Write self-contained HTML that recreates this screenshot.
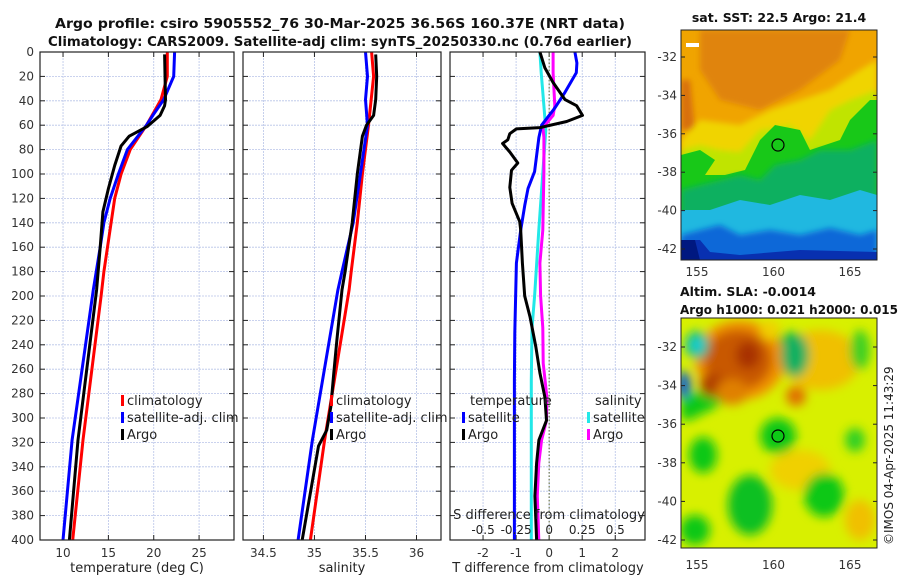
<!DOCTYPE html>
<html><head><meta charset="utf-8"><style>
html,body{margin:0;padding:0;background:#fff;}
svg{display:block;font-family:"DejaVu Sans","Liberation Sans",sans-serif;}
</style></head><body>
<svg id="c" width="900" height="580" viewBox="0 0 900 580" xmlns="http://www.w3.org/2000/svg">
<defs>
<filter id="bl" x="-20%" y="-20%" width="140%" height="140%"><feGaussianBlur stdDeviation="3"/></filter>
<filter id="bl2" x="-20%" y="-20%" width="140%" height="140%"><feGaussianBlur stdDeviation="5"/></filter>
<clipPath id="m1"><rect x="681" y="30" width="196" height="230"/></clipPath>
<clipPath id="m2"><rect x="681" y="318" width="196" height="230"/></clipPath>
</defs>
<g id="titles" font-weight="bold" font-size="13" fill="#111" text-anchor="middle">
<text x="340" y="28" textLength="570" lengthAdjust="spacingAndGlyphs">Argo profile: csiro 5905552_76 30-Mar-2025 36.56S 160.37E (NRT data)</text>
<text x="340" y="46" textLength="584" lengthAdjust="spacingAndGlyphs">Climatology: CARS2009. Satellite-adj clim: synTS_20250330.nc (0.76d earlier)</text>
</g>
<g id="plots"></g>

<!-- SST map -->
<g>
<g clip-path="url(#m1)">
<rect x="681" y="30" width="196" height="230" fill="#f0a400"/>
<g filter="url(#bl)">
<path d="M700 30 L850 30 L840 60 L800 90 L760 110 L720 100 L700 70Z" fill="#e08408"/>
<path d="M681 80 L690 80 L695 130 L681 130Z" fill="#d87010"/>
<path d="M681 140 L700 120 L740 125 L770 110 L800 100 L830 90 L860 70 L877 60 L877 260 L681 260Z" fill="#f0d400"/>
<path d="M681 150 L700 145 L720 150 L740 152 L760 130 L790 125 L810 140 L830 110 L850 100 L877 90 L877 260 L681 260Z" fill="#c0e400"/>
</g>
<path d="M681 155 L700 150 L715 160 L705 175 L725 175 L745 170 L760 140 L775 125 L800 130 L810 150 L840 140 L850 120 L860 110 L870 100 L877 100 L877 260 L681 260Z" fill="#18c818"/>
<path d="M681 190 L700 185 L720 180 L740 175 L760 180 L775 165 L800 160 L820 150 L850 150 L877 140 L877 260 L681 260Z" fill="#10b060" filter="url(#bl)"/>
<path d="M681 210 L710 210 L740 200 L770 205 L800 195 L830 200 L860 190 L877 195 L877 260 L681 260Z" fill="#20b8e0"/>
<path d="M681 235 L700 230 L720 225 L740 235 L770 230 L800 235 L830 228 L860 235 L877 230 L877 260 L681 260Z" fill="#1068d8" filter="url(#bl)"/>
<path d="M681 240 L700 240 L710 252 L740 255 L800 250 L877 252 L877 260 L681 260Z" fill="#0830b0"/>
<path d="M681 240 L695 240 L700 260 L681 260Z" fill="#001880"/>
<rect x="686" y="43" width="13" height="4" fill="#fff"/>
</g>
<rect x="681" y="30" width="196" height="230" fill="none" stroke="#222" stroke-width="1"/>
<circle cx="778" cy="145" r="6" fill="none" stroke="#000" stroke-width="1.2"/>
</g>
<text x="779" y="22" font-weight="bold" font-size="12.5" text-anchor="middle" fill="#111">sat. SST: 22.5 Argo: 21.4</text>

<!-- SLA map -->
<g>
<g clip-path="url(#m2)">
<rect x="681" y="318" width="196" height="230" fill="#d8f000"/>
<g filter="url(#bl2)">
<ellipse cx="820" cy="360" rx="40" ry="30" fill="#f0c000"/>
<ellipse cx="800" cy="470" rx="30" ry="20" fill="#f0d000"/>
<ellipse cx="860" cy="520" rx="15" ry="20" fill="#f0c000"/>
<path d="M681 400 L720 380 L760 350 L790 330 L800 360 L770 380 L730 400 L690 420 L681 420Z" fill="#10c818"/>
<ellipse cx="740" cy="360" rx="45" ry="40" fill="#f09000"/>
<ellipse cx="738" cy="360" rx="34" ry="30" fill="#c85800"/>
<ellipse cx="748" cy="355" rx="12" ry="14" fill="#a83000"/>
<ellipse cx="712" cy="385" rx="12" ry="12" fill="#b04000"/>
<ellipse cx="795" cy="355" rx="14" ry="22" fill="#18b060"/>
<ellipse cx="697" cy="345" rx="12" ry="14" fill="#10c090"/>
<ellipse cx="697" cy="345" rx="6" ry="6" fill="#20d0e0"/>
<ellipse cx="684" cy="385" rx="7" ry="14" fill="#1060d0"/>
<ellipse cx="732" cy="392" rx="16" ry="13" fill="#e08000"/>
<ellipse cx="796" cy="396" rx="10" ry="10" fill="#e07000"/>
<ellipse cx="778" cy="436" rx="18" ry="18" fill="#10c818"/>
<ellipse cx="703" cy="455" rx="14" ry="18" fill="#10c818"/>
<ellipse cx="750" cy="505" rx="22" ry="30" fill="#10c020"/>
<ellipse cx="824" cy="495" rx="20" ry="22" fill="#10c818"/>
<ellipse cx="695" cy="530" rx="15" ry="15" fill="#10c818"/>
<ellipse cx="855" cy="440" rx="10" ry="12" fill="#30d020"/>
<ellipse cx="860" cy="350" rx="10" ry="20" fill="#40d020"/>
<ellipse cx="770" cy="330" rx="10" ry="10" fill="#f0d000"/>
</g>
</g>
<rect x="681" y="318" width="196" height="230" fill="none" stroke="#222" stroke-width="1"/>
<circle cx="778" cy="436" r="6" fill="none" stroke="#000" stroke-width="1.2"/>
</g>
<text x="680" y="296" font-weight="bold" font-size="12.5" fill="#111">Altim. SLA: -0.0014</text>
<text x="680" y="314" font-weight="bold" font-size="12.5" fill="#111" textLength="218" lengthAdjust="spacingAndGlyphs">Argo h1000: 0.021 h2000: 0.015</text>
<text transform="translate(893,545) rotate(-90)" font-size="12" fill="#222">©IMOS 04-Apr-2025 11:43:29</text>
<g id="maplabels" font-size="12" fill="#333"></g>
</svg>
<script>
// ---- data ----
const depthTicks = [0,20,40,60,80,100,120,140,160,180,200,220,240,260,280,300,320,340,360,380,400];
const tempTicks = [10,15,20,25];
const salTicks = [34.5,35,35.5,36];
const tdiffTicks = [-2,-1,0,1,2];
const sdiffTicks = [-0.5,-0.25,0,0.25,0.5];
const sdiffTickLabels = ["-0.5","-0.25","0","0.25","0.5"];

const tClimDepth = [0,20,39,60,80,100,120,140,160,180,200,318,400];
const tClimValue = [21.5,21.5,20.8,19.2,17.4,16.4,15.7,15.3,14.9,14.5,14.2,12.2,11.07];
const tSatDepth = [0,20,39,52,60,80,100,120,140,160,195,318,400];
const tSatValue = [22.3,22.2,21.1,19.9,19.2,17.1,16.1,15.2,14.5,14.1,13.34,11.0,10.0];
const tArgoDepth = [2,39,44,52,61,65,69,77,93,112,131,160,195,318,400];
const tArgoValue = [21.2,21.3,21.2,20.7,19.3,18.3,17.3,16.4,15.7,15.0,14.4,14.1,13.7,11.65,10.7];

const sClimDepth = [0,20,60,100,140,180,195,318,400];
const sClimValue = [35.56,35.58,35.53,35.47,35.42,35.36,35.34,35.10,34.96];
const sSatDepth = [0,20,39,60,100,140,180,195,318,400];
const sSatValue = [35.50,35.52,35.50,35.52,35.45,35.38,35.27,35.23,34.98,34.84];
const sArgoDepth = [2,20,39,52,60,69,100,140,180,195,236,263,291,310,323,400];
const sArgoValue = [35.60,35.61,35.60,35.58,35.51,35.47,35.42,35.37,35.30,35.27,35.22,35.19,35.16,35.12,35.04,34.88];

const dTSatDepth = [0,9,17,33,46,60,70,98,112,126,146,173,230,269,400];
const dTSatValue = [0.78,0.84,0.82,0.48,0.17,-0.23,-0.31,-0.44,-0.64,-0.74,-0.86,-0.99,-1.04,-1.05,-1.05];
const dTArgoDepth = [0,13,25,39,44,52,57,62,63,67,72,75,82,91,97,111,124,139,146,173,200,217,242,263,283,302,318,337,364,400];
const dTArgoValue = [-0.28,-0.13,0.12,0.48,0.83,1.01,0.53,-0.28,-0.99,-1.19,-1.25,-1.41,-1.19,-0.95,-1.14,-1.19,-1.12,-0.89,-0.86,-0.81,-0.74,-0.58,-0.40,-0.28,-0.13,-0.08,-0.31,-0.38,-0.43,-0.38];
const dSSatDepth = [0,17,44,64,98,146,200,226,269,400];
const dSSatValue = [-0.07,-0.06,-0.04,-0.025,-0.047,-0.078,-0.11,-0.13,-0.135,-0.135];
const dSArgoDepth = [0,17,44,52,62,70,98,146,173,200,226,255,283,302,318,337,364,400];
const dSArgoValue = [0.03,0.03,0.043,0.03,-0.047,-0.04,-0.04,-0.048,-0.07,-0.065,-0.048,-0.045,-0.017,-0.02,-0.057,-0.078,-0.09,-0.078];

const latTicks = [-32,-34,-36,-38,-40,-42];
const lonTicks = [155,160,165];

// ---- drawing ----
const NS='http://www.w3.org/2000/svg';
const root=document.getElementById('plots');
function mk(tag,attrs,parent){const e=document.createElementNS(NS,tag);for(const k in attrs)e.setAttribute(k,attrs[k]);(parent||root).appendChild(e);return e;}
const top0=52, bot=540;
function yD(d){return top0+(bot-top0)*d/400;}

const panels=[
 {x0:40,x1:234,min:7.46,max:28.85,name:'temperature-panel'},
 {x0:243,x1:441,min:34.30,max:36.24,name:'salinity-panel'},
 {x0:450,x1:645,min:-3.0,max:2.9,name:'difference-panel'}
];
function sx(p,v){return p.x0+(v-p.min)/(p.max-p.min)*(p.x1-p.x0);}
function sxS(v){return sx(panels[2],v*4);} // S difference axis: 0.25 equals 1 unit of T axis

panels.forEach((p,i)=>{
  const g=mk('g',{});
  
  
  depthTicks.forEach(d=>{
    const y=yD(d);
    if(d>0&&d<400){const l=mk('line',{x1:p.x0,x2:p.x1,y1:y,y2:y,stroke:'#b8c4e8','stroke-width':0.8,'stroke-dasharray':'2,1'},g);
      }
    mk('line',{x1:p.x0,x2:p.x0+5,y1:y,y2:y,stroke:'#222'},g);
    mk('line',{x1:p.x1-5,x2:p.x1,y1:y,y2:y,stroke:'#222'},g);
  });
  const ticks=i==0?tempTicks:i==1?salTicks:tdiffTicks;
  ticks.forEach(t=>{
    const x=sx(p,t);
    const l=mk('line',{x1:x,x2:x,y1:top0,y2:bot,stroke:'#b8c4e8','stroke-width':0.8,'stroke-dasharray':'2,1'},g);
    
    mk('line',{x1:x,x2:x,y1:top0,y2:top0+5,stroke:'#222'},g);
    mk('line',{x1:x,x2:x,y1:bot-5,y2:bot,stroke:'#222'},g);
    const tx=mk('text',{x:x,y:bot+17,'font-size':12,fill:'#333','text-anchor':'middle'},g);
    tx.textContent=t;
    
  });
});
// y tick labels
depthTicks.forEach(d=>{
  const t=mk('text',{x:34,y:yD(d)+4,'font-size':12,fill:'#333','text-anchor':'end'});
  t.textContent=d;
  
});
// zero line in diff panel
{const x=sx(panels[2],0);const l=mk('line',{x1:x,x2:x,y1:top0,y2:bot,stroke:'#556030','stroke-width':1,'stroke-dasharray':'1.5,2'});
 }

function line(dArr,vArr,fx,color,name){
  const pts=dArr.map((d,i)=>fx(vArr[i]).toFixed(1)+','+yD(d).toFixed(1)).join(' ');
  const pl=mk('polyline',{points:pts,fill:'none',stroke:color,'stroke-width':3,'stroke-linejoin':'round'});
  
  
}
const P0=panels[0],P1=panels[1],P2=panels[2];
line(tClimDepth,tClimValue,v=>sx(P0,v),'#ff0000','temp-climatology-line');
line(tSatDepth,tSatValue,v=>sx(P0,v),'#0000ff','temp-satellite-line');
line(tArgoDepth,tArgoValue,v=>sx(P0,v),'#000','temp-argo-line');
line(sClimDepth,sClimValue,v=>sx(P1,v),'#ff0000','sal-climatology-line');
line(sSatDepth,sSatValue,v=>sx(P1,v),'#0000ff','sal-satellite-line');
line(sArgoDepth,sArgoValue,v=>sx(P1,v),'#000','sal-argo-line');
line(dSSatDepth,dSSatValue,sxS,'#22e8e8','sdiff-satellite-line');
line(dSArgoDepth,dSArgoValue,sxS,'#ff00ff','sdiff-argo-line');
line(dTSatDepth,dTSatValue,v=>sx(P2,v),'#0000ff','tdiff-satellite-line');
line(dTArgoDepth,dTArgoValue,v=>sx(P2,v),'#000','tdiff-argo-line');

// frames
panels.forEach(p=>{const r=mk('rect',{x:p.x0,y:top0,width:p.x1-p.x0,height:bot-top0,fill:'none',stroke:'#222','stroke-width':1.2});
 });

// S diff axis labels (inside panel)
sdiffTicks.forEach((t,i)=>{
  const tx=mk('text',{x:sxS(t),y:534,'font-size':12,fill:'#222','text-anchor':'middle'});
  tx.textContent=sdiffTickLabels[i];
  
});
function txt(x,y,s,name,extra){const t=mk('text',Object.assign({x:x,y:y,'font-size':13,fill:'#222'},extra||{}));t.textContent=s;
  return t;}
txt(549,519,'S difference from climatology','sdiff-axis-title',{'text-anchor':'middle','font-size':13});
txt(137,572,'temperature (deg C)','x-axis-title-temperature',{'text-anchor':'middle'});
txt(342,572,'salinity','x-axis-title-salinity',{'text-anchor':'middle'});
txt(548,572,'T difference from climatology','x-axis-title-tdiff',{'text-anchor':'middle'});

// legends
function leg(x,y,color,label,name){
  const r=mk('rect',{x:x,y:y-10,width:3,height:11,fill:color});
  
  txt(x+6,y,label,name);
}
leg(121,405,'#ff0000','climatology','legend-climatology');
leg(121,422,'#0000ff','satellite-adj. clim','legend-satellite');
leg(121,439,'#000','Argo','legend-argo');
leg(330,405,'#ff0000','climatology','legend-sal-climatology');
leg(330,422,'#0000ff','satellite-adj. clim','legend-sal-satellite');
leg(330,439,'#000','Argo','legend-sal-argo');
txt(470,405,'temperature','legend-temperature-header');
leg(462,422,'#0000ff','satellite','legend-tdiff-satellite');
leg(462,439,'#000','Argo','legend-tdiff-argo');
txt(595,405,'salinity','legend-salinity-header');
leg(587,422,'#22e8e8','satellite','legend-sdiff-satellite');
leg(587,439,'#ff00ff','Argo','legend-sdiff-argo');

// map axis labels
const ml=document.getElementById('maplabels');
function mapAxes(yTop,yBot,latTop,latBot,lonY){
  latTicks.forEach(l=>{
    const y=yTop+(l-latTop)/(latBot-latTop)*(yBot-yTop);
    const t=mk('text',{x:677,y:y+4,'text-anchor':'end'},ml);t.textContent=l;
    
    mk('line',{x1:681,x2:685,y1:y,y2:y,stroke:'#222'},ml);
    mk('line',{x1:873,x2:877,y1:y,y2:y,stroke:'#222'},ml);
  });
  lonTicks.forEach(l=>{
    const x=697+(l-155)*15.3;
    const t=mk('text',{x:x,y:lonY,'text-anchor':'middle'},ml);t.textContent=l;
    
  });
}
mapAxes(57,249,-32,-42,276);
mapAxes(347,540,-32,-42,569);
</script>
</body></html>
